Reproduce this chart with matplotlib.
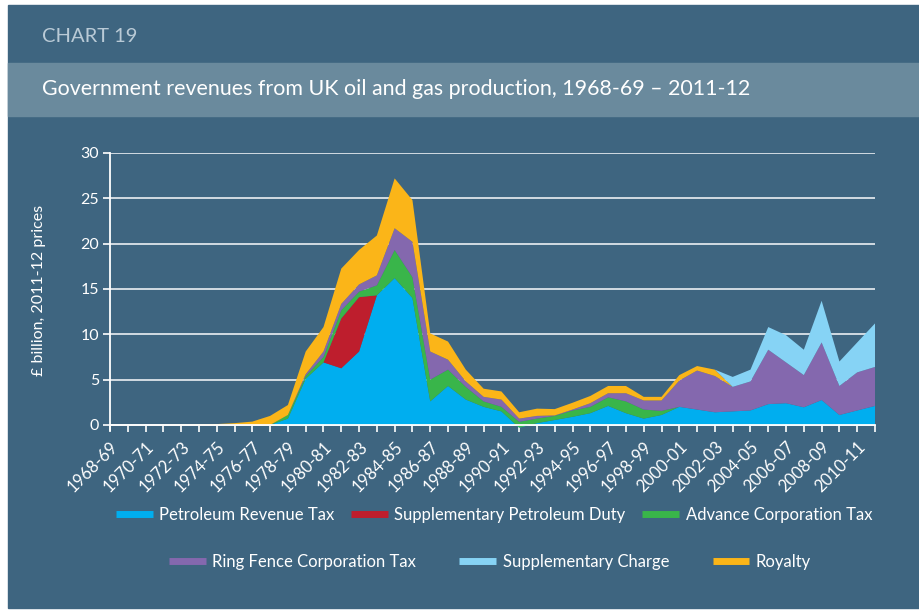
import numpy as np
import matplotlib
matplotlib.use('Agg')
import matplotlib.pyplot as plt
from matplotlib.lines import Line2D
from matplotlib.patches import Rectangle

plt.rcParams['font.family'] = ['Lato', 'DejaVu Sans']

# financial years 1968-69 .. 2011-12
years = [f"{y}-{(y + 1) % 100:02d}" for y in range(1968, 2012)]

# £ billion, 2011-12 prices
prt = [0, 0, 0, 0, 0, 0, 0, 0, 0, 0,
       0.7, 5.1, 6.9, 6.25, 8.1, 14.3, 16.2, 14.0, 2.6, 4.3,
       2.8, 2.0, 1.5, -0.3, 0.2, 0.55, 0.9, 1.3, 2.1, 1.3,
       0.7, 1.1, 2.0, 1.7, 1.4, 1.5, 1.6, 2.3, 2.4, 1.95,
       2.75, 1.1, 1.6, 2.1]
spd = [0] * 13 + [5.5, 6.0] + [0] * 29
act = [0] * 10 + [0.4, 0.3, 0.6, 0.9, 0.6, 1.1, 3.1, 2.3, 2.4, 1.8,
                  1.4, 0.6, 0.5, 0.65, 0.5, 0.45, 0.7, 0.7, 0.95, 1.3,
                  1.0, 0.45] + [0] * 12
rfct = [0] * 11 + [0.2, 0.6, 0.7, 0.8, 1.1, 2.4, 3.9, 3.1, 1.1,
                   0.6, 0.5, 0.8, 0.35, 0.3, 0.05, 0.1, 0.4, 0.45, 0.9,
                   1.0, 1.15, 2.9, 4.3, 4.0, 2.7, 3.2, 6.0, 4.5, 3.55,
                   6.35, 3.2, 4.2, 4.3]
royalty = [0, 0, 0, 0.02, 0.03, 0.05, 0.1, 0.2, 0.37, 1.0,
           1.1, 2.5, 2.7, 3.9, 3.8, 4.4, 5.5, 4.6, 2.0, 2.0,
           1.3, 0.9, 0.9, 0.7, 0.8, 0.7, 0.75, 0.8, 0.8, 0.8,
           0.4, 0.4, 0.6, 0.5, 0.7] + [0] * 9
sc = [0] * 35 + [1.1, 1.3, 2.5, 3.0, 2.8, 4.6, 2.7, 3.3, 4.8]

bg = '#3e6580'
c_prt, c_spd, c_act = '#00aeef', '#be1e2d', '#39b54a'
c_rfct, c_sc, c_roy = '#8468ae', '#86d3f5', '#fbb518'

fig = plt.figure(figsize=(9.19, 6.12), dpi=100, facecolor='white')

# background panels
fig.patches.append(Rectangle((8 / 919, 4 / 612), 1, 603 / 612, transform=fig.transFigure,
                             color=bg, zorder=-2))
fig.patches.append(Rectangle((8 / 919, 496 / 612), 1, 53 / 612, transform=fig.transFigure,
                             color='#6a8a9d', zorder=-1))
fig.text(42 / 919, 1 - 37 / 612, 'CHART 19', color='#b9cad6', fontsize=14.5,
         va='center', ha='left')
fig.text(42 / 919, 1 - 89 / 612, 'Government revenues from UK oil and gas production, 1968-69 \u2013 2011-12',
         color='white', fontsize=15.4, va='center', ha='left')

ax = fig.add_axes([110 / 919, 1 - 430.4 / 612, 765 / 919, 277.4 / 612])
ax.set_facecolor(bg)
x = np.arange(len(years))
ax.stackplot(x, prt, spd, act, rfct, royalty, sc,
             colors=[c_prt, c_spd, c_act, c_rfct, c_roy, c_sc], linewidth=0, zorder=2)

# spines first (moving a spine resets the ticks)
for s in ['top', 'right']:
    ax.spines[s].set_visible(False)
ax.spines['bottom'].set_position(('data', 0))
ax.spines['left'].set_color('white')
ax.spines['left'].set_linewidth(1.3)
ax.spines['bottom'].set_color('white')
ax.spines['bottom'].set_linewidth(1.3)
ax.spines['bottom'].set_zorder(3)

ax.set_xlim(0, len(years) - 1)
ax.set_ylim(-0.6, 30)
ax.set_yticks(range(0, 31, 5))
ax.yaxis.grid(True, color='#dde4ea', linewidth=1.3, zorder=0)
ax.set_axisbelow(True)

ax.set_xticks(x)
ax.set_xticklabels([lab if i % 2 == 0 else '' for i, lab in enumerate(years)])
ax.tick_params(axis='both', colors='white', length=5, width=1.2, labelsize=11.5)
ax.tick_params(axis='x', pad=5, labelsize=12)
ax.tick_params(axis='y', pad=3)
for lab in ax.get_xticklabels():
    lab.set_rotation(45)
    lab.set_ha('right')
    lab.set_va('top')
    lab.set_rotation_mode('anchor')

fig.text(39 / 919, 1 - 290 / 612, '\u00a3 billion, 2011-12 prices', color='white', fontsize=11.5,
         rotation=90, ha='center', va='center')

# legend in two rows
def handle(c):
    return Line2D([], [], color=c, linewidth=5, solid_capstyle='butt')

row1 = fig.legend([handle(c_prt), handle(c_spd), handle(c_act)],
                  ['Petroleum Revenue Tax', 'Supplementary Petroleum Duty', 'Advance Corporation Tax'],
                  loc='center', bbox_to_anchor=(494 / 919, 1 - 515 / 612), ncol=3, frameon=False,
                  fontsize=12, labelcolor='white', handlelength=2.2, handletextpad=0.4,
                  columnspacing=1.0, borderpad=0)
row2 = fig.legend([handle(c_rfct), handle(c_sc), handle(c_roy)],
                  ['Ring Fence Corporation Tax', 'Supplementary Charge', 'Royalty'],
                  loc='center', bbox_to_anchor=(490 / 919, 1 - 562 / 612), ncol=3, frameon=False,
                  fontsize=12, labelcolor='white', handlelength=2.2, handletextpad=0.4,
                  columnspacing=2.6, borderpad=0)

fig.savefig('out.png', dpi=100, facecolor='white')
